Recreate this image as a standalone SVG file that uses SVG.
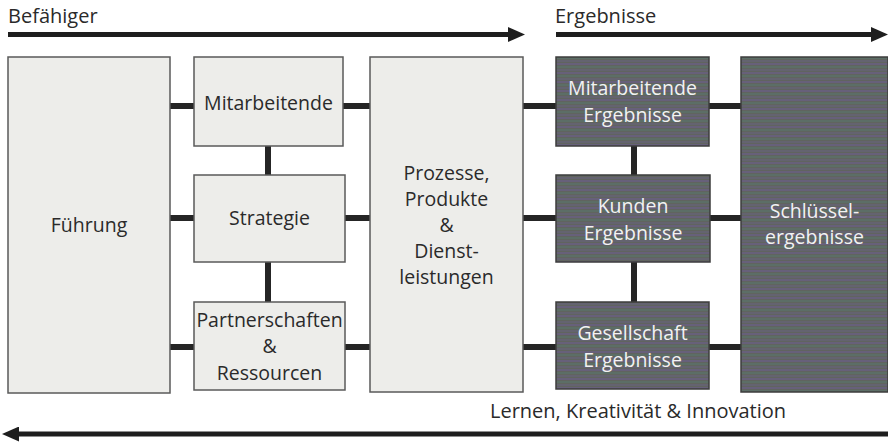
<svg xmlns="http://www.w3.org/2000/svg" width="888" height="446" viewBox="0 0 888 446">
<style>
.lt{fill:#ededea;stroke:#5a5a5a;stroke-width:1.5}
.dk{fill:url(#stripes);stroke:#3c3c3c;stroke-width:1.5}
.t{font-family:"Open Sans","Noto Sans",sans-serif;font-size:19.5px;fill:#2a2a2a;text-anchor:middle}
.tw{font-family:"Open Sans","Noto Sans",sans-serif;font-size:19.5px;fill:#f2f2f2;text-anchor:middle}
.hd{font-family:"Open Sans","Noto Sans",sans-serif;font-size:20px;fill:#2a2a2a}
.c{stroke:#252525;stroke-width:6;fill:none}
.ar{stroke:#1e1e1e;stroke-width:5;fill:none}
</style>
<defs>
<pattern id="stripes" patternUnits="userSpaceOnUse" width="20" height="9">
<rect width="20" height="9" fill="#60645f"/>
<rect y="0" width="20" height="2" fill="#67607a"/>
<rect y="3" width="20" height="2" fill="#5c6e66"/>
<rect y="6" width="20" height="2" fill="#646370"/>
</pattern>
<marker id="ah" markerWidth="3.4" markerHeight="3" refX="0" refY="1.5" orient="auto" markerUnits="strokeWidth">
<path d="M0,0 L3.4,1.5 L0,3 z" fill="#1e1e1e"/>
</marker>
</defs>
<g id="headers">
<text class="hd" x="8" y="23">Befähiger</text>
<text class="hd" x="555" y="23">Ergebnisse</text>
<text class="hd" x="490" y="418">Lernen, Kreativität &amp; Innovation</text>
</g>
<g id="arrows">
<line class="ar" x1="8" y1="34.5" x2="508" y2="34.5" marker-end="url(#ah)"/>
<line class="ar" x1="556" y1="34.5" x2="871" y2="34.5" marker-end="url(#ah)"/>
<line class="ar" x1="888" y1="434" x2="19" y2="434" marker-end="url(#ah)"/>
</g>
<g id="connectors">
<line class="c" x1="170" y1="106" x2="741" y2="106"/>
<line class="c" x1="170" y1="218" x2="741" y2="218"/>
<line class="c" x1="170" y1="347" x2="741" y2="347"/>
<line class="c" x1="268" y1="146" x2="268" y2="175"/>
<line class="c" x1="268" y1="262" x2="268" y2="302"/>
<line class="c" x1="634" y1="146" x2="634" y2="175"/>
<line class="c" x1="634" y1="262" x2="634" y2="302"/>
</g>
<g id="fuehrung">
<rect class="lt" x="8" y="57" width="162" height="336"/>
<text class="t" x="89" y="232">Führung</text>
</g>
<g id="mitarbeitende">
<rect class="lt" x="194" y="57" width="149" height="89"/>
<text class="t" x="268.5" y="110">Mitarbeitende</text>
</g>
<g id="strategie">
<rect class="lt" x="194" y="175" width="151" height="87"/>
<text class="t" x="269.5" y="225">Strategie</text>
</g>
<g id="partnerschaften">
<rect class="lt" x="194" y="302" width="151" height="88"/>
<text class="t" x="269.5" y="327">Partnerschaften</text>
<text class="t" x="269.5" y="353">&amp;</text>
<text class="t" x="269.5" y="380">Ressourcen</text>
</g>
<g id="prozesse">
<rect class="lt" x="370" y="57" width="153" height="335"/>
<text class="t" x="446.5" y="180">Prozesse,</text>
<text class="t" x="446.5" y="206">Produkte</text>
<text class="t" x="446.5" y="232">&amp;</text>
<text class="t" x="446.5" y="258">Dienst-</text>
<text class="t" x="446.5" y="284">leistungen</text>
</g>
<g id="mitarbeitende-ergebnisse">
<rect class="dk" x="556" y="57" width="153" height="89"/>
<text class="tw" x="632.5" y="95">Mitarbeitende</text>
<text class="tw" x="632.5" y="122">Ergebnisse</text>
</g>
<g id="kunden-ergebnisse">
<rect class="dk" x="556" y="175" width="154" height="87"/>
<text class="tw" x="633" y="213">Kunden</text>
<text class="tw" x="633" y="240">Ergebnisse</text>
</g>
<g id="gesellschaft-ergebnisse">
<rect class="dk" x="556" y="302" width="153" height="87"/>
<text class="tw" x="632.5" y="340">Gesellschaft</text>
<text class="tw" x="632.5" y="367">Ergebnisse</text>
</g>
<g id="schluesselergebnisse">
<rect class="dk" x="741" y="57" width="147" height="335"/>
<text class="tw" x="814.5" y="218">Schlüssel-</text>
<text class="tw" x="814.5" y="244">ergebnisse</text>
</g>
</svg>
